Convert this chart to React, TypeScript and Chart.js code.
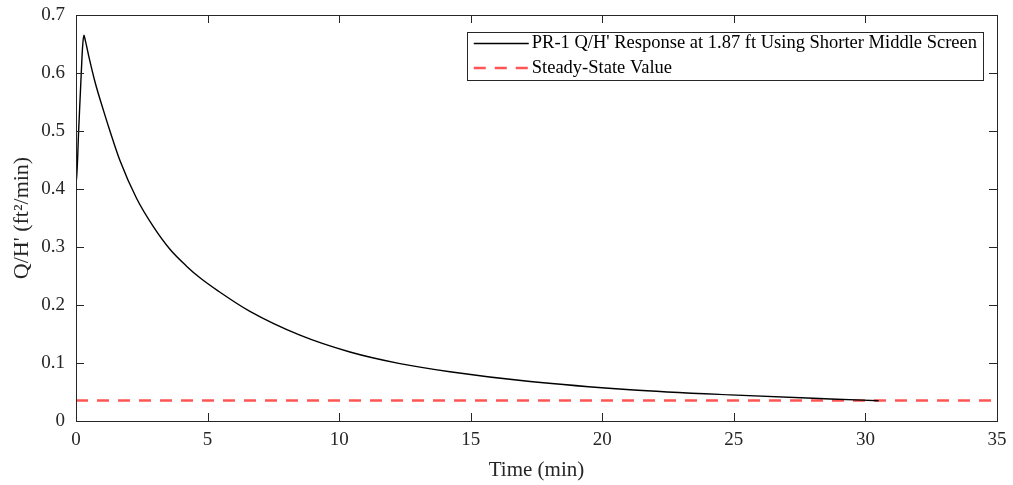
import React, { useEffect, useRef } from "react";
import { Chart, registerables } from "chart.js";

Chart.register(...registerables);

// ---- Data ----
const timeMin = [
  0, 0.01, 0.1, 0.2, 0.25, 0.3, 0.36, 0.5, 0.72, 1.04, 1.29, 1.67, 2.3, 2.94,
  3.57, 4.2, 4.71, 5.41, 6.61, 8.51, 10.41, 12.31, 14.21, 17.26, 21.06, 24.86,
  28.66, 30.5,
];
const qhResponse = [
  0.58, 0.41, 0.5, 0.6, 0.645, 0.665, 0.655, 0.626, 0.585, 0.536, 0.5, 0.449,
  0.384, 0.335, 0.296, 0.267, 0.247, 0.224, 0.189, 0.148, 0.119, 0.099, 0.085,
  0.068, 0.054, 0.045, 0.038, 0.035,
];
const steadyStateTime = [0, 35];
const steadyStateValue = [0.0355, 0.0355];

const xTickValues = [0, 5, 10, 15, 20, 25, 30, 35];
const yTickValues = [0, 0.1, 0.2, 0.3, 0.4, 0.5, 0.6, 0.7];

const responseLabel = "PR-1 Q/H' Response at 1.87 ft Using Shorter Middle Screen";
const steadyLabel = "Steady-State Value";
const xTitle = "Time (min)";
const yTitle = "Q/H' (ft\u00B2/min)";

const FONT = "'Liberation Serif', 'Times New Roman', serif";
const AXIS_COLOR = "#262626";

const framePlugin = {
  id: "matlabFrame",
  afterDatasetsDraw(chart: any) {
    const { ctx, chartArea: a, scales } = chart;
    const L = 8;
    ctx.save();
    ctx.strokeStyle = AXIS_COLOR;
    ctx.lineWidth = 1;
    ctx.beginPath();
    for (const t of scales.x.ticks) {
      const px = Math.round(scales.x.getPixelForValue(t.value)) + 0.5;
      ctx.moveTo(px, a.bottom);
      ctx.lineTo(px, a.bottom - L);
      ctx.moveTo(px, a.top);
      ctx.lineTo(px, a.top + L);
    }
    for (const t of scales.y.ticks) {
      const py = Math.round(scales.y.getPixelForValue(t.value)) + 0.5;
      ctx.moveTo(a.left, py);
      ctx.lineTo(a.left + L, py);
      ctx.moveTo(a.right, py);
      ctx.lineTo(a.right - L, py);
    }
    ctx.stroke();
    ctx.strokeRect(
      Math.round(a.left) + 0.5,
      Math.round(a.top) + 0.5,
      Math.round(a.right - a.left),
      Math.round(a.bottom - a.top)
    );
    ctx.restore();
  },
};

const legendPlugin = {
  id: "insideLegend",
  afterDraw(chart: any) {
    const { ctx } = chart;
    const ds = chart.data.datasets;
    const fontSize = 18.5;
    ctx.save();
    ctx.font = `${fontSize}px ${FONT}`;
    let textW = 0;
    for (const d of ds) textW = Math.max(textW, ctx.measureText(d.label).width);
    const right = 983;
    const top = 32;
    const rowH = 24.5;
    const sampleStart = 7;
    const sampleLen = 55;
    const textGap = 3;
    const left = right - 6 - textW - (sampleStart + sampleLen + textGap);
    const height = 48;
    ctx.fillStyle = "#ffffff";
    ctx.fillRect(left, top, right - left, height);
    ctx.strokeStyle = AXIS_COLOR;
    ctx.lineWidth = 1;
    ctx.strokeRect(Math.round(left) + 0.5, top + 0.5, Math.round(right - left), height);
    ds.forEach((d: any, i: number) => {
      const cy = top + 11.5 + i * rowH;
      ctx.beginPath();
      ctx.strokeStyle = d.borderColor;
      ctx.lineWidth = d.borderWidth;
      ctx.setLineDash(d.borderDash || []);
      ctx.moveTo(left + sampleStart, cy);
      ctx.lineTo(left + sampleStart + sampleLen, cy);
      ctx.stroke();
      ctx.setLineDash([]);
      ctx.fillStyle = "#000000";
      ctx.textBaseline = "middle";
      ctx.textAlign = "left";
      ctx.fillText(d.label, left + sampleStart + sampleLen + textGap, cy);
    });
    ctx.restore();
  },
};

export default function App() {
  const canvasRef = useRef<HTMLCanvasElement | null>(null);

  useEffect(() => {
    if (!canvasRef.current) return;
    const responsePoints = timeMin.map((t, i) => ({ x: t, y: qhResponse[i] }));
    const steadyPoints = steadyStateTime.map((t, i) => ({ x: t, y: steadyStateValue[i] }));

    const chart = new Chart(canvasRef.current, {
      type: "line",
      data: {
        datasets: [
          {
            label: responseLabel,
            data: responsePoints,
            borderColor: "#000000",
            borderWidth: 1.4,
            pointRadius: 0,
            cubicInterpolationMode: "monotone",
            fill: false,
          },
          {
            label: steadyLabel,
            data: steadyPoints,
            borderColor: "rgb(255, 85, 85)",
            borderWidth: 2.5,
            borderDash: [12, 9],
            pointRadius: 0,
            fill: false,
          },
        ],
      },
      options: {
        responsive: false,
        animation: false,
        devicePixelRatio: 1,
        layout: { padding: { top: 15, right: 16, left: 0, bottom: 0 } },
        plugins: {
          legend: { display: false },
          tooltip: { enabled: false },
        },
        scales: {
          x: {
            type: "linear",
            min: 0,
            max: 35,
            afterBuildTicks: (scale: any) => {
              scale.ticks = xTickValues.map((v) => ({ value: v }));
            },
            afterFit: (scale: any) => {
              scale.height = 64;
              scale.paddingLeft = 0;
              scale.paddingRight = 0;
            },
            grid: { display: false, drawTicks: false },
            border: { display: false },
            ticks: {
              color: AXIS_COLOR,
              font: { family: FONT, size: 19 },
              padding: 8,
              maxRotation: 0,
              callback: (v: any) => String(v),
            },
            title: {
              display: true,
              text: xTitle,
              color: AXIS_COLOR,
              font: { family: FONT, size: 21, lineHeight: 1 },
              padding: { top: 0, bottom: 4 },
            },
          },
          y: {
            type: "linear",
            min: 0,
            max: 0.7,
            afterBuildTicks: (scale: any) => {
              scale.ticks = yTickValues.map((v) => ({ value: v }));
            },
            afterFit: (scale: any) => {
              scale.width = 76;
              scale.paddingTop = 0;
              scale.paddingBottom = 0;
            },
            grid: { display: false, drawTicks: false },
            border: { display: false },
            ticks: {
              color: AXIS_COLOR,
              font: { family: FONT, size: 19 },
              padding: 11,
              callback: (v: any) => String(Number(Number(v).toFixed(1))),
            },
            title: {
              display: true,
              text: yTitle,
              color: AXIS_COLOR,
              font: { family: FONT, size: 22, lineHeight: 1 },
              padding: { top: 11, bottom: 0 },
            },
          },
        },
      },
      plugins: [framePlugin, legendPlugin],
    });
    return () => chart.destroy();
  }, []);

  return (
    <div style={{ position: "absolute", left: 0, top: 0, width: 1013, height: 485, background: "#ffffff" }}>
      <canvas ref={canvasRef} width={1013} height={485} style={{ display: "block" }} />
    </div>
  );
}
